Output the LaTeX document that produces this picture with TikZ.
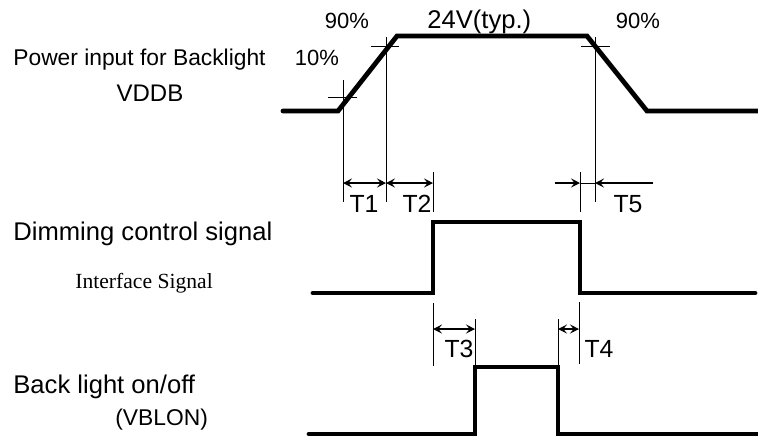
\documentclass[tikz,border=0pt]{standalone}
\usepackage{fontspec}
\setmainfont{Liberation Sans}
\newfontfamily\ifacefont{Liberation Serif}
\usetikzlibrary{arrows.meta}
\tikzset{
  sig/.style={line width=2.4pt, line cap=round, line join=miter},
  guide/.style={line width=0.5pt},
  tip/.tip={Stealth[length=4.5pt, width=4.5pt, inset=1.8pt]},
  span/.style={line width=1pt, tip-tip},
  lbl/.style={font=\fontsize{11.4}{13}\selectfont, inner sep=0pt, anchor=base},
  biglbl/.style={lbl, font=\fontsize{12.8}{15}\selectfont},
  tlbl/.style={lbl, font=\fontsize{12.4}{15}\selectfont},
}
\begin{document}
\begin{tikzpicture}[x=0.5pt, y=-0.5pt]
    \useasboundingbox (0,0) rectangle (758,436);

    % Power input for Backlight (top)
    \node[lbl, anchor=base west] (pwr) at (13,65) {Power input for Backlight};
    \node[lbl, font=\fontsize{12}{14}\selectfont] (vddb) at (150,101) {VDDB};
    \coordinate (r0) at (338,111);
    \coordinate (r1) at (397,36);
    \coordinate (f0) at (587,36);
    \coordinate (f1) at (647,111);
    \draw[sig] (283,111) -- (r0) -- (r1) -- (f0) -- (f1) -- (758,111);
    \node[lbl, font=\fontsize{11}{13}\selectfont] (p90a) at (347,28) {90\%};
    \node[lbl, font=\fontsize{11}{13}\selectfont] (p10) at (317,65) {10\%};
    \node[biglbl, anchor=base west] (v24) at (427,28) {24V(typ.)};
    \node[lbl, font=\fontsize{11}{13}\selectfont] (p90b) at (638,28) {90\%};

    % 10% and 90% marks
    \draw[guide] (328,97) -- (357,97);
    \draw[guide] (371,46) -- (399,46);
    \draw[guide] (581,46) -- (610,46);
    \coordinate (g10) at (343,183);
    \coordinate (g90a) at (386,183);
    \coordinate (g90b) at (595,183);
    \draw[guide] (343,80) -- (343,202);
    \draw[guide] (386,37) -- (386,202);
    \draw[guide] (595,37) -- (595,202);

    % Dimming control signal (middle)
    \node[biglbl, anchor=base west] (dimsig) at (13,240) {Dimming control signal};
    \node[lbl, anchor=base west, font=\ifacefont\fontsize{10.8}{13}\selectfont] (iface) at (75,288) {Interface Signal};
    \draw[sig] (313,293) -- (433,293) -- (433,222) -- (580,222) -- (580,293) -- (755,293);
    \coordinate (d0) at (433,183);
    \coordinate (d1) at (580,183);
    \draw[guide] (433,172) -- (433,212);
    \draw[guide] (580,172) -- (580,212);

    % T1, T2, T5
    \draw[span] (g10) -- (g90a);
    \draw[span] (g90a) -- (d0);
    \coordinate (t5a) at (555,183);
    \coordinate (t5b) at (653,183);
    \draw[span, -tip] (t5a) -- (d1);
    \draw[span, -tip] (t5b) -- (g90b);
    \draw[guide] (d1) -- (g90b);
    \node[tlbl] (t1) at (364,212) {T1};
    \node[tlbl] (t2) at (417,212) {T2};
    \node[tlbl] (t5) at (628,212) {T5};

    % Back light on/off (bottom)
    \node[biglbl, anchor=base west] (bl) at (13,393) {Back light on/off};
    \node[lbl, anchor=base west] (vblon) at (115,425) {(VBLON)};
    \draw[sig] (309,434) -- (475,434) -- (475,367) -- (558,367) -- (558,434) -- (758,434);
    \draw[guide] (433,303) -- (433,366);
    \draw[guide] (475,319) -- (475,366);
    \draw[guide] (558,319) -- (558,366);
    \draw[guide] (579,302) -- (579,364);

    % T3, T4
    \coordinate (t3a) at (433,329);
    \coordinate (t3b) at (475,329);
    \coordinate (t4a) at (558,329);
    \coordinate (t4b) at (579,329);
    \draw[span] (t3a) -- (t3b);
    \draw[span] (t4a) -- (t4b);
    \node[tlbl] (t3) at (459,357) {T3};
    \node[tlbl] (t4) at (599,357) {T4};
\end{tikzpicture}
\end{document}
